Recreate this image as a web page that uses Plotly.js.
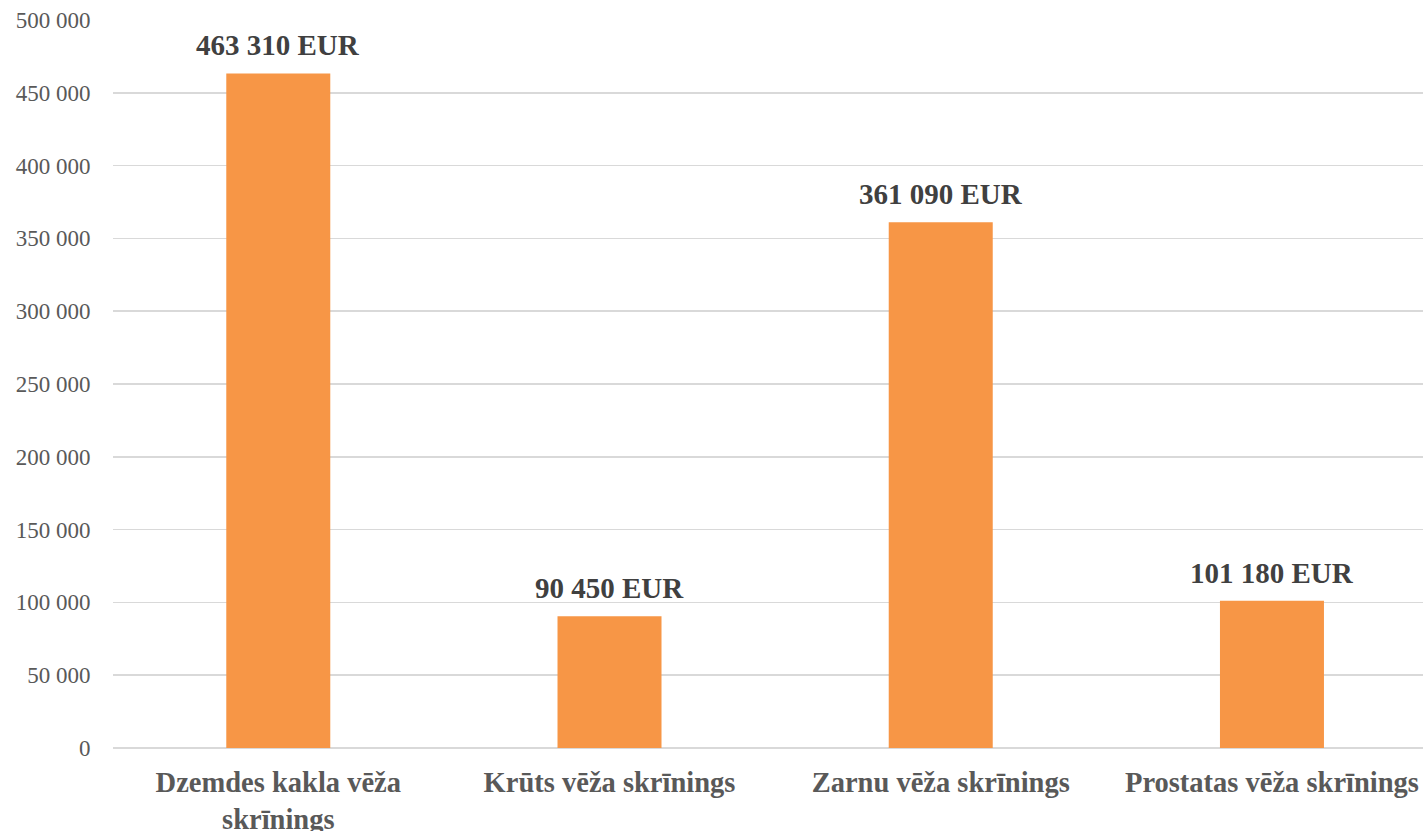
<!DOCTYPE html>
<html>
<head>
<meta charset="utf-8">
<script src="https://cdn.plot.ly/plotly-3.0.1.min.js"></script>
<style>html,body{margin:0;padding:0;background:#fff;}#chart{width:1423px;height:831px;}</style>
</head>
<body>
<div id="chart"></div>
<script>
const categories = ["Dzemdes kakla vēža<br>skrīnings", "Krūts vēža skrīnings", "Zarnu vēža skrīnings", "Prostatas vēža skrīnings"];
const values = [463310, 90450, 361090, 101180];
const tickValues = [0, 50000, 100000, 150000, 200000, 250000, 300000, 350000, 400000, 450000, 500000];

const serif = "'Liberation Serif', 'Times New Roman', serif";

function fmt(v) {
  return String(v).replace(/\B(?=(\d{3})+(?!\d))/g, ' ');
}

const labels = values.map((v, i) => ({
  x: i, y: v, xref: 'x', yref: 'y',
  text: '<b>' + fmt(v) + ' EUR</b>',
  showarrow: false, yanchor: 'bottom', xanchor: 'center',
  yshift: 10,
  font: {family: serif, size: 29, color: '#404040'}
}));

Plotly.newPlot('chart', [{
  type: 'bar',
  x: [0, 1, 2, 3],
  y: values,
  width: 0.314,
  marker: {color: '#f79646', line: {width: 0}},
  hoverinfo: 'none'
}], {
  width: 1423, height: 831,
  margin: {l: 113, r: 0, t: 20, b: 83},
  separators: '. ',
  showlegend: false,
  paper_bgcolor: '#fff', plot_bgcolor: '#fff',
  annotations: labels,
  xaxis: {
    range: [-0.499, 3.456],
    tickmode: 'array',
    tickvals: [0, 1, 2, 3],
    ticktext: categories.map(c => '<b>' + c + '</b>'),
    showgrid: false, zeroline: false, showline: false,
    ticks: 'outside', ticklen: 9, tickcolor: 'rgba(0,0,0,0)',
    tickfont: {family: serif, size: 28.5, color: '#595959'},
    fixedrange: true
  },
  yaxis: {
    range: [0, 500000],
    tickmode: 'array',
    tickvals: tickValues,
    tickformat: ',d',
    showgrid: true, gridcolor: '#d9d9d9', gridwidth: 1.5,
    zeroline: true, zerolinecolor: '#d9d9d9', zerolinewidth: 1.5,
    showline: false,
    ticks: 'outside', ticklen: 17, tickcolor: 'rgba(0,0,0,0)',
    tickfont: {family: serif, size: 23, color: '#595959'},
    fixedrange: true
  }
}, {displayModeBar: false, staticPlot: true});
</script>
</body>
</html>
